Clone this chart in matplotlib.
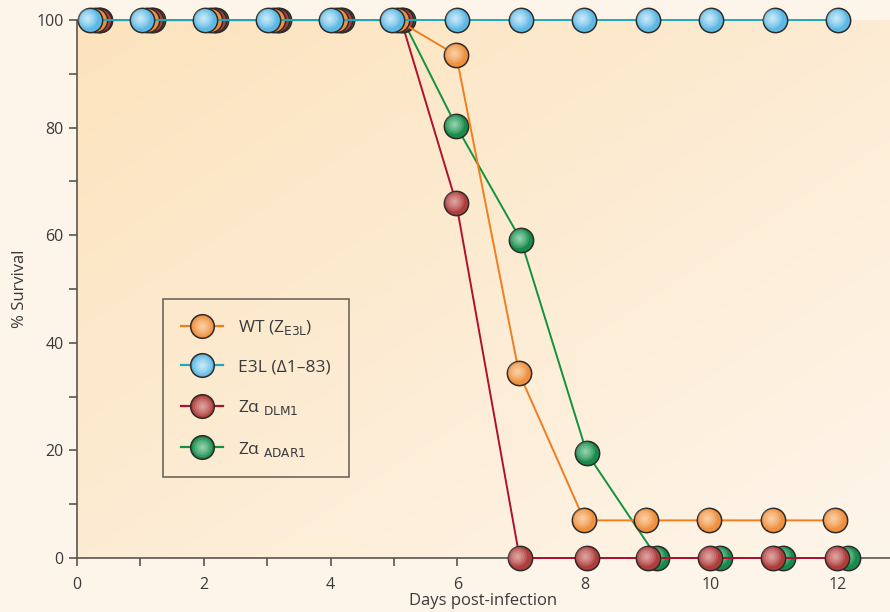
import numpy as np
import matplotlib
matplotlib.use("Agg")
import matplotlib.pyplot as plt
from matplotlib.lines import Line2D
from matplotlib.transforms import offset_copy
from matplotlib.legend_handler import HandlerTuple

# days (slightly staggered in the original so overlapping markers show)
x_e3l = [0.2, 1.03, 2.02, 3.01, 4.01, 4.97, 6.0, 7.0, 8.0, 9.0, 10.0, 11.0, 12.0]
y_e3l = [100] * 13

x_wt = [0.28, 1.11, 2.1, 3.09, 4.09, 5.05, 5.98, 6.97, 8.0, 8.97, 9.97, 10.98, 11.95]
y_wt = [100, 100, 100, 100, 100, 100, 93.5, 34.4, 7, 7, 7, 7, 7]

x_dlm = [0.34, 1.17, 2.16, 3.15, 4.15, 5.11, 5.98, 6.98, 8.04, 9.0, 9.98, 10.98, 11.98]
y_dlm = [100, 100, 100, 100, 100, 100, 66, 0, 0, 0, 0, 0, 0]

x_adar = [0.37, 1.2, 2.19, 3.18, 4.18, 5.14, 5.98, 7.0, 8.04, 9.15, 10.14, 11.14, 12.15]
y_adar = [100, 100, 100, 100, 100, 100, 80.3, 59.1, 19.5, 0, 0, 0, 0]

labels = [r"WT (Z$_{\mathrm{E3L}}$)", "E3L (\u03941\u201383)",
          "Z\u03b1 $_{\\mathrm{DLM1}}$", "Z\u03b1 $_{\\mathrm{ADAR1}}$"]

line_cols = ["#F07E1E", "#1EA7BE", "#B0102E", "#10923E"]
face_cols = ["#EE9040", "#5DB9E4", "#AC3E3C", "#178A4C"]
light_cols = ["#FBD2A8", "#CDEBFA", "#E2A8A6", "#9AD6B2"]

plt.rcParams['font.family'] = ['Open Sans', 'DejaVu Sans']

fig = plt.figure(figsize=(8.9, 6.12), dpi=100)
fig.patch.set_facecolor("#FEF5EA")
ax = fig.add_axes([0.0865, 0.0882, 0.9135, 0.879])
ax.set_facecolor("#FEF5EA")

# diagonal background gradient
gx, gy = np.meshgrid(np.linspace(0, 1, 200), np.linspace(0, 1, 200))
t = np.clip((gx + (1 - gy)) / 2, 0, 1)
c0 = np.array([0xFC, 0xE3, 0xBD]) / 255
c1 = np.array([0xFE, 0xF5, 0xEA]) / 255
img = c0[None, None, :] * (1 - t[..., None]) + c1[None, None, :] * t[..., None]
ax.imshow(img[::-1], extent=[0, 1, 0, 1], transform=ax.transAxes,
          aspect="auto", zorder=0, origin="upper")

hl_tr = offset_copy(ax.transData, fig=fig, x=-1.6, y=1.6, units="points")
shade = [(14, 0.25), (11, 0.3), (8, 0.35), (5, 0.45), (2.5, 0.6)]

series = [(x_adar, y_adar, 3), (x_dlm, y_dlm, 2), (x_wt, y_wt, 0), (x_e3l, y_e3l, 1)]
for k, (xs, ys, ci) in enumerate(series):
    z = 3 + k * 3
    ax.plot(xs, ys, color=line_cols[ci], lw=1.4, zorder=z, clip_on=False)
    ax.plot(xs, ys, ls="none", marker="o", ms=17.5, mfc=face_cols[ci],
            mec="#2E2A28", mew=1.1, zorder=z + 0.5, clip_on=False)
    # fake radial shading
    for s, a in shade:
        ax.plot(xs, ys, ls="none", marker="o", ms=s, mfc=light_cols[ci],
                mec="none", alpha=a, zorder=z + 1, clip_on=False, transform=hl_tr)

ax.set_xlim(0, 12.82)
ax.set_ylim(0, 100)
ax.set_xticks(range(0, 13, 2))
ax.set_xticks(range(0, 13), minor=True)
ax.set_yticks(range(0, 101, 20))
ax.set_yticks(range(0, 101, 10), minor=True)
for s in ["top", "right"]:
    ax.spines[s].set_visible(False)
for s in ["left", "bottom"]:
    ax.spines[s].set_color("#5A5550")
    ax.spines[s].set_linewidth(1.2)
ax.tick_params(which="both", direction="out", color="#5A5550", width=1.2,
               length=6, labelsize=11.5, labelcolor="#3A3A3A")
ax.tick_params(axis="x", pad=8)
ax.set_xlabel("Days post-infection", fontsize=12, color="#3A3A3A", labelpad=0)
ax.set_ylabel("% Survival", fontsize=12, color="#3A3A3A", labelpad=6)

handles = []
for i in range(4):
    base = Line2D([], [], color=line_cols[i], lw=1.6, marker="o", ms=17,
                  mfc=face_cols[i], mec="#2E2A28", mew=1.1)
    hl = [Line2D([], [], ls="none", marker="o", ms=s, mfc=light_cols[i],
                 mec="none", alpha=a) for s, a in shade]
    handles.append(tuple([base] + hl))
leg = ax.legend(handles, labels, loc="lower left", bbox_to_anchor=(0.106, 0.151),
                fontsize=12.5, frameon=True, fancybox=False, handlelength=2.4,
                labelspacing=1.3, borderpad=1.05, handletextpad=0.85,
                borderaxespad=0, handler_map={tuple: HandlerTuple(ndivide=1, pad=0)})
leg.get_frame().set_edgecolor("#4A4540")
leg.get_frame().set_facecolor("none")
leg.get_frame().set_linewidth(1.2)
leg.set_zorder(30)
for txt in leg.get_texts():
    txt.set_color("#3A3A3A")

fig.savefig("out.png", dpi=100, facecolor=fig.get_facecolor())
